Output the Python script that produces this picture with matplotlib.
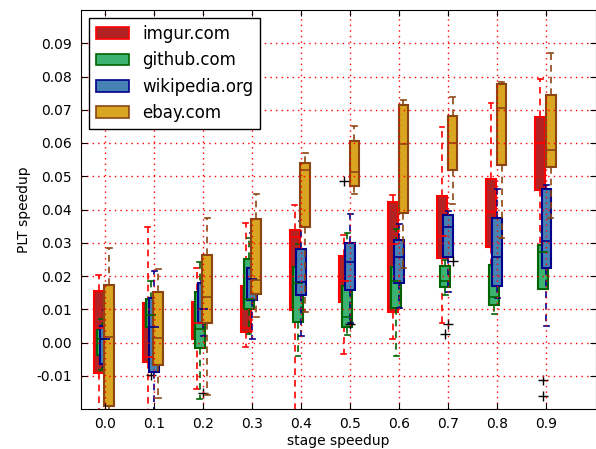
import matplotlib
matplotlib.use('Agg')
import matplotlib.pyplot as plt
import matplotlib.patches as mpatches
import numpy as np

stages = [0.0, 0.1, 0.2, 0.3, 0.4, 0.5, 0.6, 0.7, 0.8, 0.9]
sites = ['imgur.com', 'github.com', 'wikipedia.org', 'ebay.com']

# box stats: whisker low, q1, median, q3, whisker high
imgur_lo = [-0.025, -0.025, -0.0141, -0.0014, -0.021, -0.0035, 0.0010, 0.0058, 0.0143, 0.0230]
imgur_q1 = [-0.0092, -0.0060, 0.0010, 0.0031, 0.0098, 0.0123, 0.0091, 0.0253, 0.0288, 0.0460]
imgur_med = [0.0044, -0.0043, 0.0060, 0.0043, 0.0318, 0.0186, 0.0296, 0.0320, 0.0391, 0.0600]
imgur_q3 = [0.0155, 0.0118, 0.0121, 0.0171, 0.0338, 0.0261, 0.0423, 0.0442, 0.0493, 0.0678]
imgur_hi = [0.0203, 0.0346, 0.0223, 0.0358, 0.0413, 0.0323, 0.0443, 0.0648, 0.0721, 0.0791]
imgur_fl = [[], [], [], [], [], [0.0486], [], [], [], []]

github_lo = [-0.0083, -0.0052, -0.0169, 0.0025, -0.0042, 0.0023, -0.0042, 0.0143, 0.0086, 0.0160]
github_q1 = [-0.0037, 0.0046, -0.0017, 0.0100, 0.0061, 0.0047, 0.0103, 0.0166, 0.0113, 0.0160]
github_med = [0.0010, 0.0083, 0.0040, 0.0132, 0.0178, 0.0076, 0.0185, 0.0184, 0.0138, 0.0273]
github_q3 = [0.0040, 0.0130, 0.0153, 0.0251, 0.0228, 0.0171, 0.0226, 0.0230, 0.0232, 0.0293]
github_hi = [0.0071, 0.0186, 0.0243, 0.0313, 0.0295, 0.0328, 0.0340, 0.0248, 0.0288, 0.0331]
github_fl = [[], [-0.0097], [], [], [], [], [], [0.0026], [], [-0.0112, -0.0160]]

wiki_lo = [-0.0073, -0.022, 0.0021, 0.0010, 0.0019, 0.0060, 0.0105, 0.0151, 0.0133, 0.0050]
wiki_q1 = [-0.0065, -0.0090, 0.0058, 0.0128, 0.0143, 0.0158, 0.0178, 0.0256, 0.0170, 0.0225]
wiki_med = [0.0010, 0.0048, 0.0102, 0.0190, 0.0183, 0.0241, 0.0256, 0.0346, 0.0256, 0.0306]
wiki_q3 = [0.0050, 0.0133, 0.0180, 0.0223, 0.0280, 0.0300, 0.0308, 0.0383, 0.0373, 0.0463]
wiki_hi = [0.0097, 0.0216, 0.0185, 0.0330, 0.0366, 0.0385, 0.0355, 0.0395, 0.0463, 0.0475]
wiki_fl = [[], [], [-0.0153], [], [], [0.0056], [], [0.0055], [], []]

ebay_lo = [-0.025, -0.0167, -0.0157, 0.0076, 0.0093, 0.0448, 0.0223, 0.0418, 0.0313, 0.0373]
ebay_q1 = [-0.0190, -0.0069, 0.0060, 0.0145, 0.0348, 0.0470, 0.0388, 0.0518, 0.0535, 0.0528]
ebay_med = [0.0016, 0.0015, 0.0138, 0.0188, 0.0518, 0.0513, 0.0598, 0.0600, 0.0705, 0.0580]
ebay_q3 = [0.0172, 0.0151, 0.0263, 0.0370, 0.0540, 0.0606, 0.0715, 0.0681, 0.0776, 0.0743]
ebay_hi = [0.0284, 0.0220, 0.0373, 0.0448, 0.0570, 0.0650, 0.0730, 0.0738, 0.0783, 0.0870]
ebay_fl = [[], [], [], [], [], [], [], [0.0245], [], []]

series = [
    (imgur_lo, imgur_q1, imgur_med, imgur_q3, imgur_hi, imgur_fl),
    (github_lo, github_q1, github_med, github_q3, github_hi, github_fl),
    (wiki_lo, wiki_q1, wiki_med, wiki_q3, wiki_hi, wiki_fl),
    (ebay_lo, ebay_q1, ebay_med, ebay_q3, ebay_hi, ebay_fl),
]
faces = ['firebrick', 'mediumseagreen', 'steelblue', 'goldenrod']
edges = ['red', 'darkgreen', 'darkblue', 'saddlebrown']
offsets = [-0.013, -0.0065, 0.0, 0.0085]
width = 0.02

fig = plt.figure(figsize=(5.96, 4.49), dpi=100)
ax = fig.add_axes([80.5/596, 40/449, 515/596, 399/449])

for i in range(len(series)):
    lo, q1, med, q3, hi, fl = series[i]
    stats = []
    for j in range(len(stages)):
        stats.append({'whislo': lo[j], 'q1': q1[j], 'med': med[j], 'q3': q3[j],
                      'whishi': hi[j], 'fliers': fl[j]})
    pos = np.array(stages) + offsets[i]
    ax.bxp(stats, positions=pos, widths=width, patch_artist=True, manage_ticks=False,
           boxprops=dict(facecolor=faces[i], edgecolor=edges[i], linewidth=1.5),
           medianprops=dict(color=edges[i], linewidth=1.2),
           whiskerprops=dict(color=edges[i], linestyle=(0, (4, 3)), linewidth=1.2),
           capprops=dict(color=edges[i], linewidth=1.2),
           flierprops=dict(marker='+', markeredgecolor='black', markersize=7,
                           markeredgewidth=1.0, linestyle='none'))

ax.set_xlim(-0.05, 1.0)
ax.set_ylim(-0.02, 0.1)
ax.set_xticks(stages)
ax.set_xticklabels(['%.1f' % s for s in stages])
yt = np.arange(-0.01, 0.095, 0.01)
ax.set_yticks(yt)
ax.set_yticklabels(['%.2f' % v if abs(v) > 1e-9 else '0.00' for v in yt])
ax.tick_params(direction='in', top=True, right=True, length=4, labelsize=10, pad=6)
ax.grid(True, color='red', linestyle=(0, (1, 3)), linewidth=1.0)
ax.set_axisbelow(False)
ax.set_xlabel('stage speedup', fontsize=10, labelpad=2)
ax.set_ylabel('PLT speedup', fontsize=10)

handles = [mpatches.Patch(facecolor=faces[i], edgecolor=edges[i], linewidth=1.2, label=sites[i])
           for i in range(len(sites))]
leg = ax.legend(handles=handles, loc='upper left', fontsize=12, fancybox=False,
                framealpha=1, edgecolor='black')
leg.get_frame().set_linewidth(1.0)

fig.savefig('out.png', dpi=100)
